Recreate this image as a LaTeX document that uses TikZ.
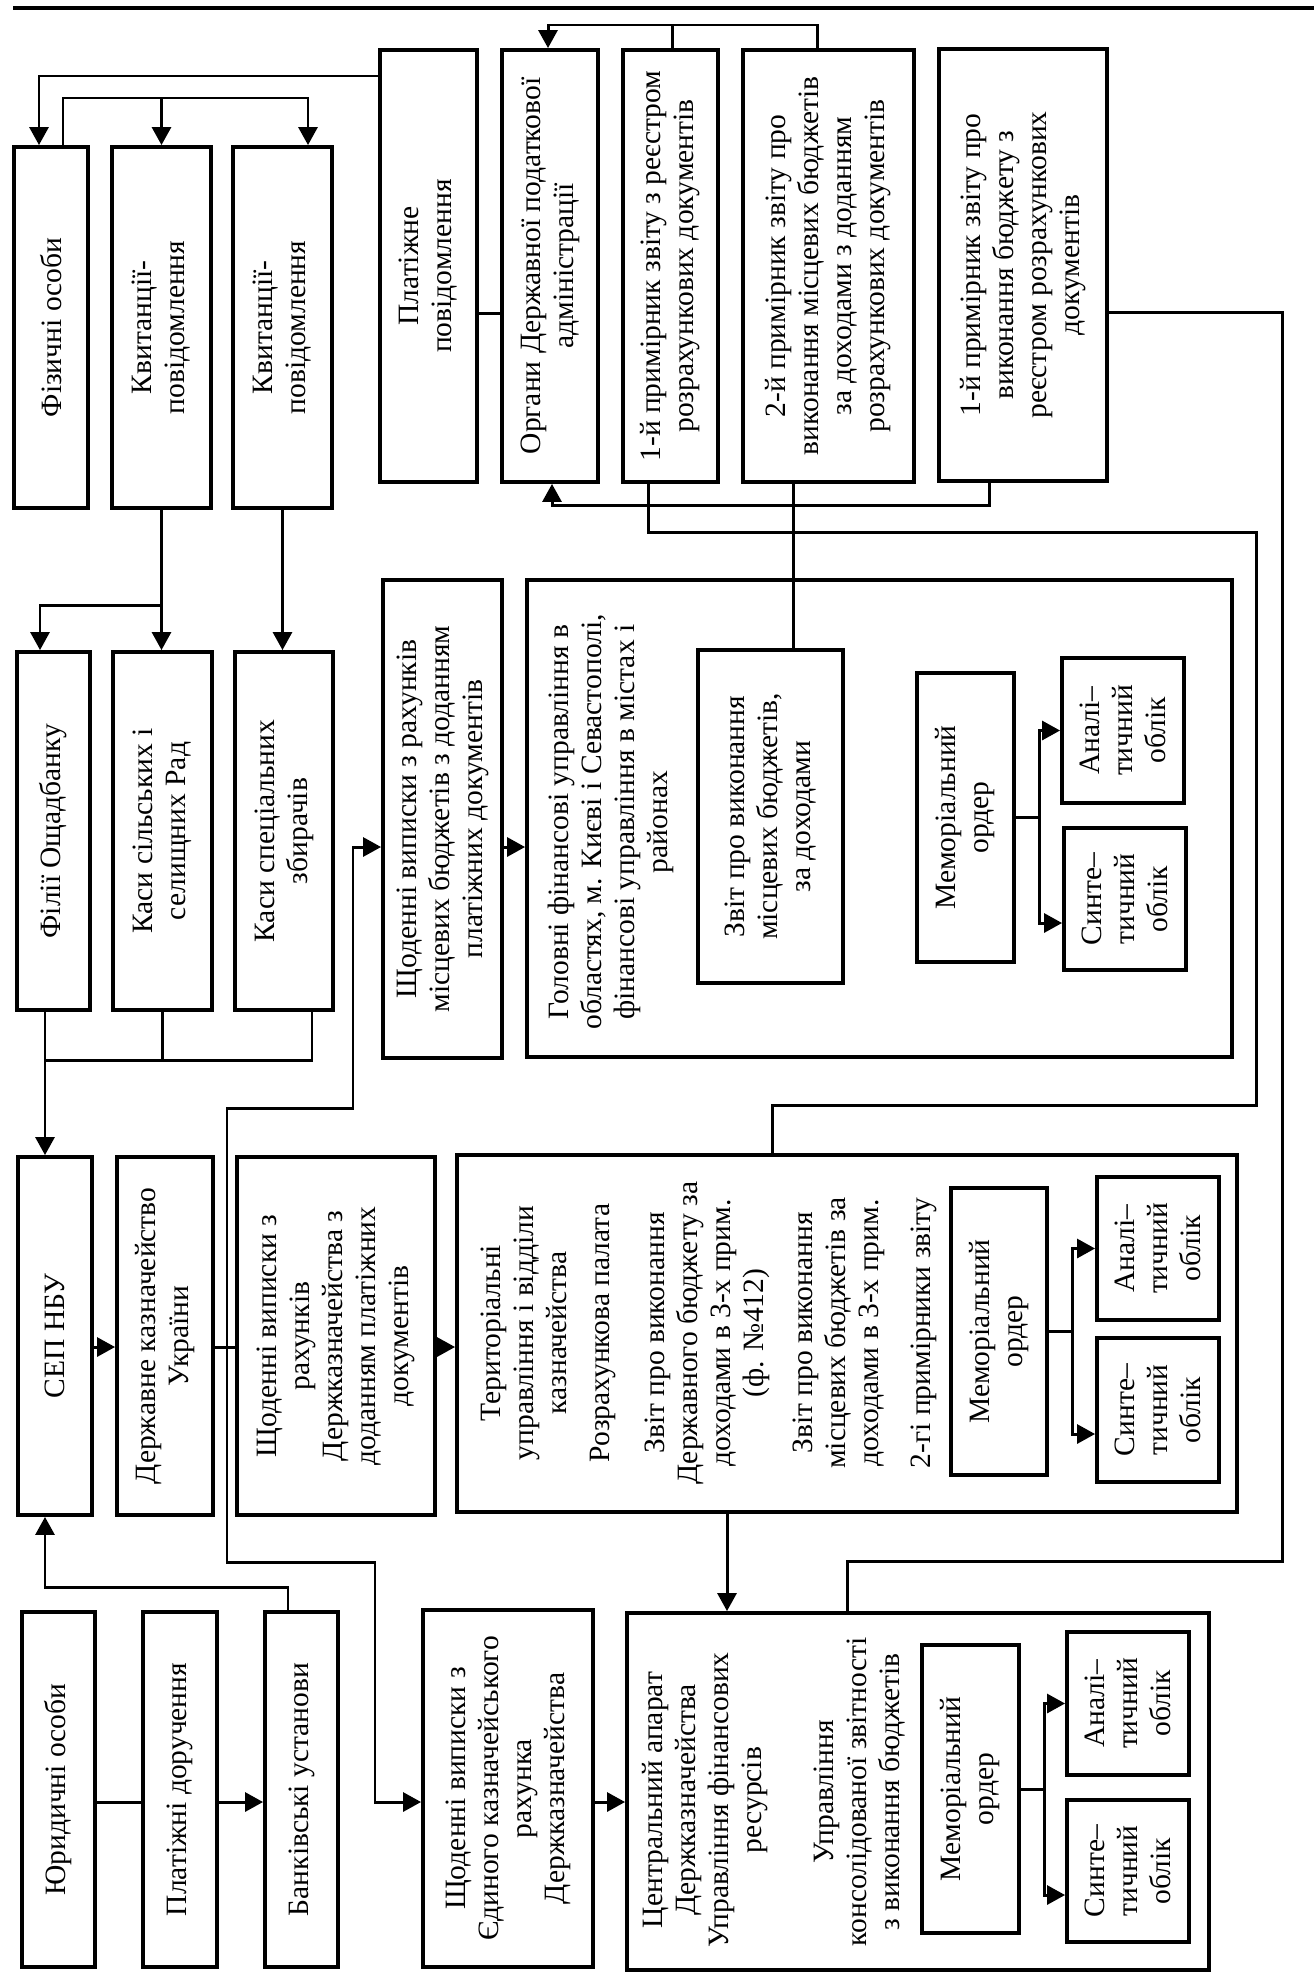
\documentclass[tikz,border=0pt]{standalone}
\usepackage{fontspec}
\setmainfont{Liberation Serif}
\usetikzlibrary{arrows.meta, calc}
\tikzstyle{block} = [rectangle, draw, line width=1.1pt, rotate=90, inner sep=1pt]
\tikzstyle{outer} = [rectangle, draw, line width=1.1pt, rotate=90]
\tikzstyle{caption} = [rotate=90, inner sep=0pt]
\tikzstyle{link} = [line width=0.85pt]
\tikzstyle{flow} = [line width=0.85pt, -{Triangle[width=1.9mm, length=1.8mm]}]
\begin{document}
\begin{tikzpicture}[x=0.1mm, y=-0.1mm, align=center, font=\fontsize{8.4}{9.4}\selectfont]
  \useasboundingbox (0,0) rectangle (1314,1981);
  \draw [line width=1.1pt] (13,8) -- (1314,8);
  \node (fiz) [block, minimum width=36.1mm, minimum height=7.4mm] at (51,327.5) {Фізичні особи};
  \node (kvyt1) [block, minimum width=36.1mm, minimum height=9.9mm] at (161.5,327.5) {Квитанції-\\повідомлення};
  \node (kvyt2) [block, minimum width=36.1mm, minimum height=9.9mm] at (282.5,327.5) {Квитанції-\\повідомлення};
  \node (plat) [block, minimum width=43.2mm, minimum height=9.7mm] at (428.5,266) {Платіжне\\повідомлення};
  \node (dpa) [block, minimum width=43.2mm, minimum height=9.6mm] at (550,266) {Органи Державної податкової\\адміністрації};
  \node (copy1) [block, minimum width=43.2mm, minimum height=9.5mm] at (670.5,266) {1-й примірник звіту з реєстром\\розрахункових документів};
  \node (copy2) [block, minimum width=43.2mm, minimum height=17.1mm] at (828.5,266) {2-й примірник звіту про\\виконання місцевих бюджетів\\за доходами з доданням\\розрахункових документів};
  \node (copy1b) [block, minimum width=43.2mm, minimum height=16.8mm] at (1023,265) {1-й примірник звіту про\\виконання бюджету з\\реєстром розрахункових\\документів};

  \node (filii) [block, minimum width=35.8mm, minimum height=7.3mm] at (53.5,831) {Філії Ощадбанку};
  \node (kasy1) [block, minimum width=35.8mm, minimum height=9.9mm] at (162.5,831) {Каси сільських і\\селищних Рад};
  \node (kasy2) [block, minimum width=35.8mm, minimum height=9.8mm] at (284,831) {Каси спеціальних\\збирачів};
  \node (vypmb) [block, minimum width=47.8mm, minimum height=11.9mm] at (442.5,819) {Щоденні виписки з рахунків\\місцевих бюджетів з доданням\\платіжних документів};
  \node (gfu) [outer, minimum width=47.7mm, minimum height=70.5mm] at (879.5,818.5) {};
  \node (gfutxt) [caption] at (611,822) {Головні фінансові управління в\\областях, м. Києві і Севастополі,\\фінансові управління в містах і\\районах};
  \node (zvitmb) [block, minimum width=33.3mm, minimum height=14.5mm] at (770.5,816.5) {Звіт про виконання\\місцевих бюджетів,\\за доходами};
  \node (mem1) [block, minimum width=28.9mm, minimum height=9.7mm] at (965.5,817.5) {Меморіальний\\ордер};
  \node (anal1) [block, minimum width=14.5mm, minimum height=12.2mm] at (1123,730.5) {Аналі–\\тичний\\облік};
  \node (synt1) [block, minimum width=14.2mm, minimum height=12.2mm] at (1125,899) {Синте–\\тичний\\облік};

  \node (sep) [block, minimum width=35.8mm, minimum height=7.4mm] at (55,1336) {СЕП НБУ};
  \node (dku) [block, minimum width=35.8mm, minimum height=9.6mm] at (165,1336) {Державне казначейство\\України};
  \node (vypdk) [block, minimum width=35.8mm, minimum height=19.8mm] at (336,1336) {Щоденні виписки з\\рахунків\\Держказначейства з\\доданням платіжних\\документів};
  \node (tuk) [outer, minimum width=35.7mm, minimum height=78mm] at (847,1333.5) {};
  \node (tuktxt) [caption] at (524,1333) {Територіальні\\управління і відділи\\казначейства};
  \node (rp) [caption] at (603,1333) {Розрахункова палата};
  \node (zvitdb) [caption] at (707,1333) {Звіт про виконання\\Державного бюджету за\\доходами в 3-х прим.\\(ф. №412)};
  \node (zvitmb3) [caption] at (839,1333) {Звіт про виконання\\місцевих бюджетів за\\доходами в 3-х прим.};
  \node (copies2) [caption] at (924,1333) {2-гі примірники звіту};
  \node (mem2) [block, minimum width=28.7mm, minimum height=9.6mm] at (999,1331.5) {Меморіальний\\ордер};
  \node (anal2) [block, minimum width=14.3mm, minimum height=12.2mm] at (1158,1248.5) {Аналі–\\тичний\\облік};
  \node (synt2) [block, minimum width=14.4mm, minimum height=12.2mm] at (1158,1410) {Синте–\\тичний\\облік};

  \node (yur) [block, minimum width=35.5mm, minimum height=7.3mm] at (58.5,1789.5) {Юридичні особи};
  \node (pd) [block, minimum width=35.5mm, minimum height=7.4mm] at (180,1789.5) {Платіжні доручення};
  \node (bank) [block, minimum width=35.5mm, minimum height=7.3mm] at (301.5,1789.5) {Банківські установи};
  \node (vypek) [block, minimum width=35.7mm, minimum height=17mm] at (508,1788.5) {Щоденні виписки з\\Єдиного казначейського\\рахунка\\Держказначейства};
  \node (ca) [outer, minimum width=35.7mm, minimum height=58.2mm] at (918,1791.5) {};
  \node (catxt) [caption] at (705,1800) {Центральний апарат\\Держказначейства\\Управління фінансових\\ресурсів};
  \node (ukz) [caption] at (860,1792) {Управління\\консолідованої звітності\\з виконання бюджетів};
  \node (mem3) [block, minimum width=28.8mm, minimum height=9.7mm] at (970.5,1789) {Меморіальний\\ордер};
  \node (anal3) [block, minimum width=14.3mm, minimum height=12.2mm] at (1128,1703.5) {Аналі–\\тичний\\облік};
  \node (synt3) [block, minimum width=14.2mm, minimum height=12.2mm] at (1128,1871) {Синте–\\тичний\\облік};

  \draw [flow] (plat.north |- 0,76) -| (39,0 |- fiz.east);
  \draw [flow] (63,0 |- fiz.east) |- (308,98) -- (308,0 |- kvyt2.east);
  \draw [flow] (kvyt1.east |- 0,98) -- (kvyt1.east);
  \draw [flow] (kvyt1.west) -- (kvyt1.west |- kasy1.east);
  \draw [flow] (kvyt1.west |- 0,605) -| (40,0 |- filii.east);
  \draw [flow] (kvyt2.west) -- (kvyt2.west |- kasy2.east);
  \draw [flow] (45,0 |- filii.west) -- (45,0 |- sep.east);
  \draw [link] (kasy1.west) |- (45,1060);
  \draw [link] (312,0 |- kasy2.west) |- (kasy1.west |- 0,1060);
  \draw [flow] (sep.south |- 0,1347) -- (dku.north |- 0,1347);
  \draw [link] (dku.south |- 0,1347) -- (vypdk.north |- 0,1347);
  \draw [flow] (227,1347) |- (353,1108) |- (vypmb.north |- 0,847);
  \draw [flow] (227,1347) |- (375,1562) |- (vypek.north |- 0,1802);
  \draw [flow] (vypmb.south |- 0,847) -- (gfu.north |- 0,847);
  \draw [flow] (vypdk.south |- 0,1347) -- (tuk.north |- 0,1347);
  \draw [flow] (vypek.south |- 0,1802) -- (ca.north |- 0,1802);
  \draw [flow] (727,0 |- tuk.west) -- (727,0 |- ca.east);
  \draw [link] (yur.south |- 0,1802) -- (pd.north |- 0,1802);
  \draw [flow] (pd.south |- 0,1802) -- (bank.north |- 0,1802);
  \draw [flow] (288,0 |- bank.east) |- (45,1587) -- (45,0 |- sep.west);
  \draw [flow] (817,0 |- copy2.east) |- (548,25) -- (548,0 |- dpa.east);
  \draw [link] (672,0 |- copy1.east) -- (672,25);
  \draw [link] (plat.south |- 0,313) -- (dpa.north |- 0,313);
  \draw [flow] (989,0 |- copy1b.west) |- (552,505) -- (552,0 |- dpa.west);
  \draw [link] (648,0 |- copy1.west) |- (1256,532) |- (772,1105) -- (772,0 |- tuk.east);
  \draw [link] (793,0 |- copy2.west) -- (793,0 |- zvitmb.east);
  \draw [link] (copy1b.south |- 0,312) -| (1282,1561) -| (847,0 |- ca.east);
  \foreach \m/\a/\s in {mem1/anal1/synt1, mem2/anal2/synt2, mem3/anal3/synt3} {
    \draw [flow] (\m.south) -- ++(24,0) |- (\a.north);
    \draw [flow] (\m.south) ++(24,0) |- ($(\s.north)+(0,24)$);
  }
\end{tikzpicture}
\end{document}
